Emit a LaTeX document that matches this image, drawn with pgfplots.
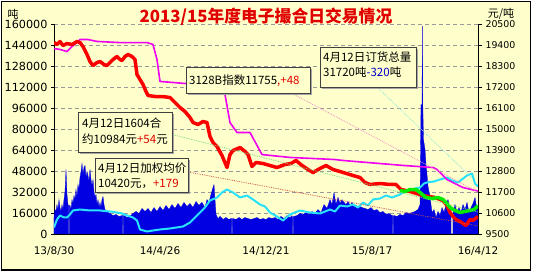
\documentclass[border=0pt]{standalone}
\usepackage{pgfplots}
\pgfplotsset{compat=1.18}
\usepackage{fontspec}
\setmainfont{DejaVu Sans}
\newfontfamily\cjk{Noto Sans CJK SC}
\definecolor{bg}{RGB}{255,255,204}
\definecolor{barblue}{RGB}{0,0,225}
\definecolor{cyanl}{RGB}{40,225,250}
\definecolor{magl}{RGB}{240,0,240}
\definecolor{redl}{RGB}{250,0,0}
\definecolor{greenl}{RGB}{0,235,0}
\definecolor{txtred}{RGB}{225,0,0}
\definecolor{txtblue}{RGB}{0,0,200}

\pgfplotstableread{
x y
0 12600
1 18700
2 17200
3 22500
4 18700
5 26300
6 20200
7 17200
8 22500
9 18700
10 26300
11 32500
12 49300
13 30200
14 22500
14.6 21800
14.7 0
15.3 0
15.4 21800
16 21800
17 18700
18 26300
19 23300
20 29400
21 26300
22 34000
23 27900
24 37800
25 34000
26 43100
27 47700
28 53800
29 45400
30 50800
31 52300
32 43100
33 47700
34 44700
35 40100
36 49300
37 41600
38 37000
39 41600
40 32500
41 27900
42 30200
43 22500
44 26300
45 20200
46 24100
47 20200
48 26300
49 28600
50 22500
51 18700
53 17200
56 15700
59 14100
62 14900
65 13400
68 14100
68.6 14100
68.7 0
69.3 0
69.4 14100
70 14100
73 12600
76 13400
79 15700
82 17200
85 15700
88 19500
91 17200
94 19500
97 16400
100 20200
103 17200
106 21000
109 17900
112 21800
115 18700
118 22500
121 19500
124 23300
127 20200
130 24100
133 21000
136 23300
139 20200
142 24800
145 21800
148 24100
151 20200
153 26300
155 24100
157 30200
159 35500
160 37800
161 26300
162 14900
164 11800
166 13400
169 11100
172 12600
175 11100
177 11800
177.6 11800
177.7 0
178.3 0
178.4 11800
179 11800
182 11100
185 12600
188 11100
191 12600
194 11800
197 11100
200 11800
203 12600
206 11100
209 11800
212 11100
215 12600
218 11800
221 12600
224 11100
227 13400
230 11800
233 14100
236 12600
238 14100
238.6 12600
238.7 0
239.3 0
239.4 13400
240 13400
243 14100
246 15700
249 14900
252 16400
255 14900
258 17200
261 15700
264 18700
267 16400
270 22500
273 19500
276 26300
278 22500
280 31700
282 22500
284 27900
286 23300
288 26300
290 24100
292 22500
294 24800
296 21800
298 24100
300 21000
302 21800
304 19500
306 21000
308 20200
311 19500
314 18700
317 20200
320 17900
323 18700
326 16400
329 17200
332 14900
335 15700
338 14100
338.6 14100
338.7 0
339.3 0
339.4 14100
340 14100
343 13400
346 14900
349 14100
352 16400
355 15700
358 16400
361 17200
364 18700
366 22500
367 98900
368 98900
368.4 159000
368.8 98900
369.5 72200
371 64500
372 53100
373 45400
374 36300
375 32500
376 29400
377 22500
378 16400
380 18700
382 12600
384 17200
386 14100
388 20200
390 16400
392 22500
394 26300
396 18700
397 18700
397.1 0
398.9 0
399 16400
401 22500
403 16400
405 20200
407 16400
409 22500
411 18700
413 24100
415 16400
417 20200
419 23300
421 27900
423 18700
424 20200
}\volume

\pgfplotstableread{
x y
0 4964
3 11074
6 14128
10 12601
13 12601
16 14892
19 17947
26 18711
36 17947
46 17947
56 17183
63 16420
68 15656
73 14128
79 12601
83 10310
86 3437
93 1909
99 2673
106 3437
116 4200
129 5728
136 8783
141 12601
146 16420
151 20238
156 25584
163 27875
168 31694
173 33985
179 31694
186 27875
193 29402
199 26348
206 22529
211 21002
216 16420
223 13365
229 10310
236 14892
246 17947
256 16420
266 15656
276 18711
281 17183
286 21765
293 21002
299 22529
304 20238
309 24057
314 21765
319 26348
326 27111
332 29402
338 27875
346 30166
351 32457
356 33221
361 34748
366 35512
370 38567
373 39331
380 40094
386 41622
393 43149
398 40858
404 39331
413 44676
418 46200
421 38567
424 36276
}\orders

\pgfplotstableread{
x y
0 19240
6 19190
13 19080
18 19340
26 19710
34 19710
43 19610
66 19550
93 19550
99 19450
103 18660
106 17510
132 17400
171 16820
176 15350
183 14830
196 14830
208 13670
236 13520
281 13410
289 13360
349 13100
379 12990
383 12890
393 12360
409 11940
424 11755
}\index

\pgfplotstableread{
x y
0 19554
3 19449
6 19606
9 19396
13 19501
18 19449
23 19606
26 19554
29 19344
33 18924
36 18556
39 18346
43 18504
46 18556
50 18399
53 18346
56 18504
59 18661
63 18819
66 18661
68 18609
71 18819
74 18924
78 18819
81 18661
83 17874
86 17611
89 17349
92 16981
94 16771
101 16719
108 16719
116 16666
121 16404
126 16141
131 15931
136 15616
139 15354
144 15249
149 15406
153 15354
156 14619
159 14304
163 14094
168 13621
173 12991
176 13674
179 13884
186 14041
191 13831
194 13674
198 13044
202 13254
209 13201
216 13096
223 12991
231 13149
237 13201
242 13359
248 13096
254 12886
259 12729
266 12939
272 13096
279 12886
286 12781
299 12571
306 12466
311 12204
316 12099
326 12151
336 12099
342 12099
347 11836
356 11731
369 11521
381 11416
389 11259
393 10996
396 10629
399 10419
402 10261
406 10156
409 10051
412 9946
416 10261
419 10209
424 10420
}\avgprice

\pgfplotstableread{
x y
346 11784
351 11731
356 11836
362 11836
366 11679
372 11416
378 11364
384 11416
389 11311
393 11101
396 10891
401 10734
406 10629
411 10681
416 10734
420 10786
424 10984
}\contract

\begin{document}
\begin{tikzpicture}[x=1pt,y=1pt]
\fill[white] (0,0) rectangle (533,273);
\filldraw[fill=bg, draw=black, line width=1.5pt] (1.5,3) rectangle (530.5,271.5);

\begin{axis}[
  at={(54pt,39pt)}, anchor=south west, scale only axis,
  width=424pt, height=209.5pt,
  xmin=0, xmax=424, ymin=0, ymax=160000,
  axis x line*=bottom, axis y line*=left,
  axis line style={line width=0.9pt, black},
  xtick={0,106,212,318,424},
  xticklabels={13/8/30,14/4/26,14/12/21,15/8/17,16/4/12},
  x tick style={draw=none},
  xticklabel style={font=\fontsize{10.5}{12}\selectfont, yshift=-6pt},
  ytick={0,16000,32000,48000,64000,80000,96000,112000,128000,144000,160000},
  y tick style={black, line width=0.6pt},
  tick align=outside, major tick length=3pt,
  yticklabel style={font=\fontsize{11.2}{13}\selectfont},
  scaled y ticks=false,
  /pgf/number format/.cd, fixed, 1000 sep={}, assume math mode=true,
  /pgfplots/.cd,
  ymajorgrids,
  grid style={black!40, dash pattern=on 4pt off 3pt, line width=0.6pt},
]
\addplot[draw=barblue, line width=0.3pt, fill=barblue] table[x=x,y=y] {\volume} \closedcycle;
\addplot[color=cyanl, line width=2pt, line join=round] table[x=x,y=y] {\orders};
\end{axis}

\begin{axis}[
  at={(54pt,39pt)}, anchor=south west, scale only axis,
  width=424pt, height=209.5pt,
  xmin=0, xmax=424, ymin=9500, ymax=20500,
  axis x line=none, axis y line*=right,
  axis line style={line width=0.9pt, black},
  ytick={9500,10600,11700,12800,13900,15000,16100,17200,18300,19400,20500},
  y tick style={black, line width=0.6pt},
  tick align=outside, major tick length=4pt,
  yticklabel style={font=\fontsize{9.4}{11}\selectfont},
  scaled y ticks=false,
  /pgf/number format/.cd, fixed, 1000 sep={}, assume math mode=true,
]
\addplot[color=magl, line width=1.6pt, line join=round] table[x=x,y=y] {\index};
\addplot[color=redl, line width=3.5pt, line join=round] table[x=x,y=y] {\avgprice};
\addplot[color=greenl, line width=3.5pt, line join=round] table[x=x,y=y] {\contract};
\end{axis}

% leader lines
\draw[color={rgb,255:red,240;green,140;blue,200}, line width=0.8pt, densely dotted] (293,179) -- (478,81);
\draw[color={rgb,255:red,140;green,230;blue,220}, line width=0.8pt, densely dotted] (378,185) -- (472,95);
\draw[color={rgb,255:red,120;green,220;blue,120}, line width=0.8pt, densely dotted] (170,139) -- (478,61);
\draw[color={rgb,255:red,200;green,80;blue,80}, line width=0.8pt, densely dotted] (188,101) -- (478,47);

% boxes
\fill[black!35] (187.5,177.5) rectangle (311.5,203.5);
\filldraw[fill=bg, draw=black!75, line width=1pt] (186,179) rectangle (310,205);
\node[anchor=west, inner sep=0pt, font=\cjk\fontsize{11.5}{14}\selectfont] at (189,192.5) {3128B指数11755\textcolor{txtred}{,+48}};

\fill[black!35] (79.5,118.5) rectangle (173.5,158.5);
\filldraw[fill=bg, draw=black!75, line width=1pt] (78,120) rectangle (172,160);
\node[anchor=west, inner sep=0pt, font=\cjk\fontsize{11.5}{14}\selectfont] at (82,149.5) {4月12日1604合};
\node[anchor=west, inner sep=0pt, font=\cjk\fontsize{11.5}{14}\selectfont] at (82,134) {约10984元\textcolor{txtred}{+54}元};

\fill[black!35] (96.5,78.5) rectangle (189.5,112.5);
\filldraw[fill=bg, draw=black!75, line width=1pt] (95,80) rectangle (188,114);
\node[anchor=west, inner sep=0pt, font=\cjk\fontsize{11.5}{14}\selectfont] at (98,105) {4月12日加权均价};
\node[anchor=west, inner sep=0pt, font=\cjk\fontsize{11.5}{14}\selectfont] at (98,89.5) {10420元，\textcolor{txtred}{+179}};

\fill[black!35] (321.5,183.5) rectangle (417.5,223.5);
\filldraw[fill=bg, draw=black!75, line width=1pt] (320,185) rectangle (416,225);
\node[anchor=west, inner sep=0pt, font=\cjk\fontsize{11.5}{14}\selectfont] at (323,215.5) {4月12日订货总量};
\node[anchor=west, inner sep=0pt, font=\cjk\fontsize{11.5}{14}\selectfont] at (323,200.5) {31720吨\textcolor{txtblue}{-320}吨};

% titles and units
\node[font=\cjk\bfseries\fontsize{16.8}{19}\selectfont, text=txtred] at (266,256) {2013/15年度电子撮合日交易情况};
\node[font=\cjk\fontsize{11}{13}\selectfont] at (13,259) {吨};
\node[font=\cjk\fontsize{11}{13}\selectfont] at (501,259) {元/吨};
\end{tikzpicture}
\end{document}
